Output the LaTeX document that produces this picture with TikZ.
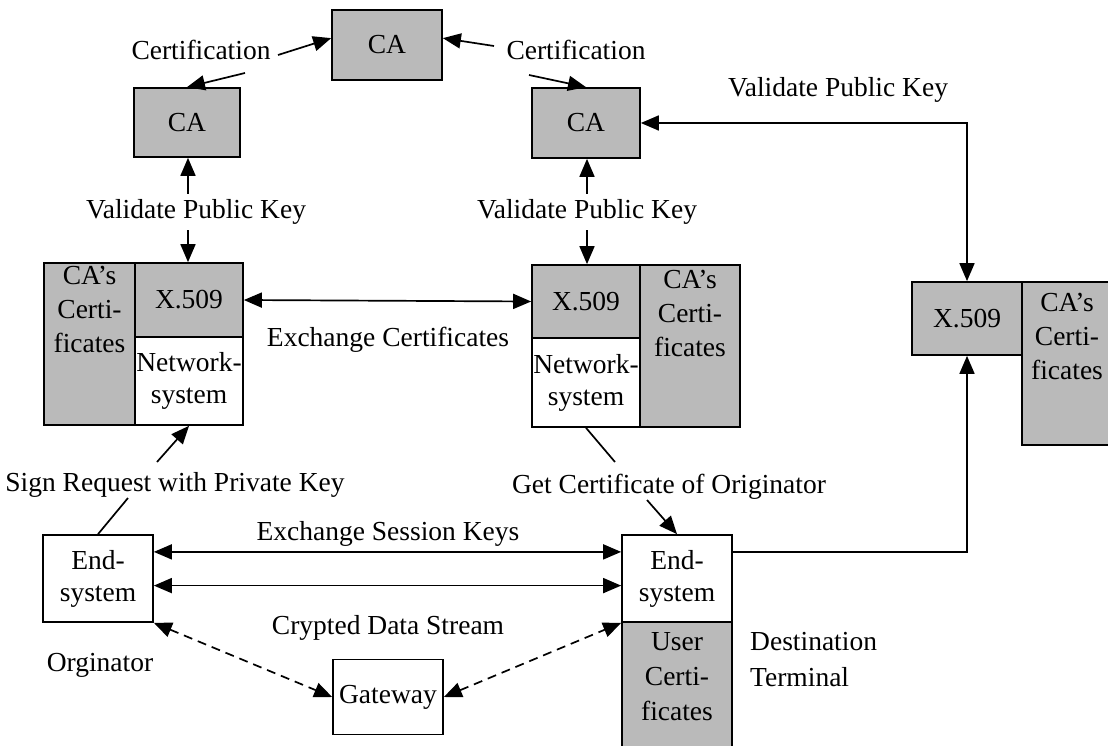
\documentclass[tikz,border=0pt]{standalone}
\usepackage{fontspec}
\setmainfont{Liberation Serif}
\usetikzlibrary{arrows.meta,calc}
\begin{document}
\begin{tikzpicture}[x=1pt,y=-1pt,
  txt/.style={font=\fontsize{27.5}{31}\selectfont, inner sep=0pt, align=center},
  wbx/.style 2 args={draw, line width=1.7pt, inner sep=0pt, minimum width=#1, minimum height=#2, align=center, font=\fontsize{27.5}{32}\selectfont, fill=white},
  gbx/.style 2 args={wbx={#1}{#2}, fill=black!27},
  ln/.style={line width=1.7pt},
  arr/.style={ln, -{Triangle[length=18pt,width=15pt]}},
  darr/.style={ln, {Triangle[length=18pt,width=15pt]}-{Triangle[length=18pt,width=15pt]}},
  dsh/.style={dash pattern=on 9pt off 6pt}
]
\clip (0,0) rectangle (1108,746);
\fill[white] (0,0) rectangle (1108,746);

% CA boxes
\node[gbx={110pt}{70pt}] (caT) at (387,45) {CA};
\node[gbx={106pt}{69pt}] (caL) at (187,122.5) {CA};
\node[gbx={108pt}{70pt}] (caR) at (586,123) {CA};

% left group
\node[gbx={91pt}{162pt}] (cacL) at (89.5,344) {};
\node[txt, anchor=north, font=\fontsize{27.5}{34}\selectfont] (cacLt) at ($(cacL.north)+(0,4)$) {CA’s\\Certi-\\ficates};
\node[gbx={108pt}{74pt}] (xL) at (189,300) {X.509};
\node[wbx={108pt}{88pt}] (nsL) at (189,381) {Network-\\system};

% middle group
\node[gbx={108pt}{73pt}] (xM) at (586,301.5) {X.509};
\node[wbx={108pt}{89pt}] (nsM) at (586,382.5) {Network-\\system};
\node[gbx={100pt}{162pt}] (cacM) at (690,346) {};
\node[txt, anchor=north, font=\fontsize{27.5}{34}\selectfont] (cacMt) at ($(cacM.north)+(0,6)$) {CA’s\\Certi-\\ficates};

% right group
\node[gbx={110pt}{73pt}] (xR) at (967,318.5) {X.509};
\node[gbx={90pt}{163pt}] (cacR) at (1067,363.5) {};
\node[txt, anchor=north, font=\fontsize{27.5}{34}\selectfont] (cacRt) at ($(cacR.north)+(0,12)$) {CA’s\\Certi-\\ficates};

% bottom
\node[wbx={110pt}{87pt}] (endL) at (98,578.5) {End-\\system};
\node[wbx={110pt}{87pt}] (endR) at (677,578.5) {End-\\system};
\node[gbx={110pt}{128pt}] (ucR) at (677,686) {};
\node[txt, anchor=north, font=\fontsize{27.5}{35}\selectfont] (ucRt) at ($(ucR.north)+(0,11)$) {User\\Certi-\\ficates};
\node[wbx={110pt}{75pt}] (gw) at (388,697) {Gateway};

% labels
\node[txt] (certL) at (201,50) {Certification};
\node[txt] (certR) at (576,50) {Certification};
\node[txt] (valTR) at (838,90) {Validate Public Key};
\node[txt] (valL) at (196,212) {Validate Public Key};
\node[txt] (valM) at (587,212) {Validate Public Key};
\node[txt] (exC) at (388,340) {Exchange Certificates};
\node[txt] (sign) at (175,485) {Sign Request with Private Key};
\node[txt] (getC) at (669,487) {Get Certificate of Originator};
\node[txt] (exS) at (388,534) {Exchange Session Keys};
\node[txt] (cry) at (388,628) {Crypted Data Stream};
\node[txt] (orig) at (100,665) {Orginator};
\node[txt, align=left, anchor=west, font=\fontsize{27.5}{36}\selectfont] (dest) at (750,660) {Destination\\Terminal};

% free ends
\coordinate (t1) at (278,55);
\coordinate (t2) at (245,73);
\coordinate (t3) at (494,46);
\coordinate (t4) at (529,75);
\coordinate (v1) at (188,194);
\coordinate (v2) at (188,230);
\coordinate (v3) at (587,194);
\coordinate (v4) at (587,230);
\coordinate (s1) at (157,462);
\coordinate (s2) at (128,498);
\coordinate (g1) at (615,462);
\coordinate (g2) at (647,500);

% connectors
\draw[arr] (t1) -- (caT.173);
\draw[arr] (t2) -- (caL.north);
\draw[arr] (t3) -- (caT.7);
\draw[arr] (t4) -- (caR.north);
\draw[arr] (v1) -- (v1 |- caL.south);
\draw[arr] (v2) -- (v2 |- xL.north);
\draw[arr] (v3) -- (v3 |- caR.south);
\draw[arr] (v4) -- (v4 |- xM.north);
\draw[darr] (caR.east) -| (xR.north);
\draw[darr] (xL.east) -- (xM.west);
\draw[arr] (s1) -- (nsL.south);
\draw[ln] (s2) -- (endL.north);
\draw[ln] (nsM.south) -- (g1);
\draw[arr] (g2) -- (endR.north);
\draw[darr] ($(endL.north east)!0.2!(endL.south east)$) -- ($(endR.north west)!0.2!(endR.south west)$);
\draw[darr] ($(endL.north east)!0.58!(endL.south east)$) -- ($(endR.north west)!0.58!(endR.south west)$);
\draw[arr] ($(endR.north east)!0.2!(endR.south east)$) -| (xR.south);
\draw[darr, dsh] (endL.south east) -- (gw.west);
\draw[darr, dsh] (gw.east) -- (endR.south west);
\end{tikzpicture}
\end{document}
